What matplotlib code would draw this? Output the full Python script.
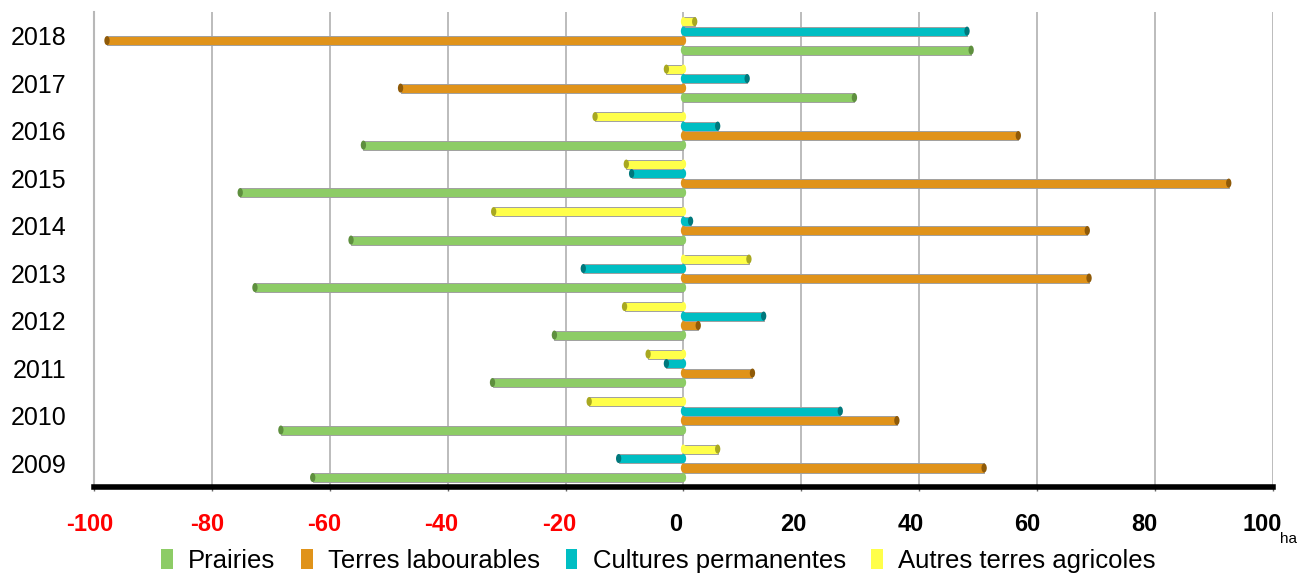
import matplotlib.pyplot as plt
import matplotlib.transforms as mtransforms
from matplotlib.patches import Ellipse, Patch

# Données (ha)
annees = ['2009', '2010', '2011', '2012', '2013', '2014', '2015', '2016', '2017', '2018']
prairies = [-62.9, -68.3, -32.4, -21.9, -72.7, -56.4, -75.2, -54.3, 29.0, 48.8]
terres_labourables = [51.0, 36.2, 11.7, 2.5, 68.8, 68.5, 92.5, 56.8, -48.0, -97.8]
cultures_permanentes = [-11.0, 26.6, -2.9, 13.6, -17.0, 1.2, -8.8, 5.8, 10.8, 48.1]
autres_terres = [5.8, -16.0, -6.0, -10.0, 11.1, -32.2, -9.7, -15.0, -2.9, 1.9]

series = ['Prairies', 'Terres labourables', 'Cultures permanentes', 'Autres terres agricoles']
valeurs = [prairies, terres_labourables, cultures_permanentes, autres_terres]
cores = ['#8dcc66', '#e0931a', '#00bec3', '#ffff4a']
cores_fonce = ['#5e8f3e', '#8f5a08', '#00787c', '#a8a820']
ticks_x = [-100, -80, -60, -40, -20, 0, 20, 40, 60, 80, 100]

plt.rcParams['font.family'] = ['Liberation Sans', 'DejaVu Sans']

fig = plt.figure(figsize=(13.04, 5.76), dpi=100)
ax = fig.add_axes([0.0721, 0.1545, 0.9041, 0.8245])

h = 0.19
offsets = [-0.3, -0.1, 0.1, 0.3]
for vals, off, c, cf in zip(valeurs, offsets, cores, cores_fonce):
    for i, v in enumerate(vals):
        y = i + off
        ax.barh(y, v, height=h, color=c, edgecolor='#a0a0a0', linewidth=0.7, zorder=3)
        # extrémités du cylindre
        ax.add_patch(Ellipse((0, y), 0.9, h, facecolor=c, edgecolor='none', zorder=4))
        ax.add_patch(Ellipse((v, y), 0.9, h, facecolor=cf, edgecolor='none', zorder=5))

ax.set_xlim(-100, 100)
ax.set_ylim(-0.5, len(annees) - 0.5)
ax.set_yticks(range(len(annees)))
ax.set_yticklabels(annees, fontsize=18)
ax.tick_params(axis='y', length=0, pad=20)

ax.set_xticks(ticks_x)
ax.set_xticklabels([str(t) for t in ticks_x], fontsize=17, fontweight='bold')
ax.tick_params(axis='x', length=3, width=1, color='#666666', pad=16, direction='out')
# étiquettes de l'avant du plancher 3D, légèrement décalées vers la gauche
for lab, t in zip(ax.get_xticklabels(), ticks_x):
    lab.set_color('red' if t < 0 else 'black')
    dx = -(4 + 7 * (t + 100) / 200) / 100
    lab.set_transform(lab.get_transform() + mtransforms.ScaledTranslation(dx, 0, fig.dpi_scale_trans))

ax.grid(axis='x', color='#b0b0b0', linewidth=1.2, zorder=0)
for s in ['top', 'right']:
    ax.spines[s].set_visible(False)
ax.spines['left'].set_color('#b8b8b8')
ax.spines['left'].set_linewidth(1.5)
ax.spines['bottom'].set_color('black')
ax.spines['bottom'].set_linewidth(4)

ax.text(1.006, -0.11, 'ha', transform=ax.transAxes, fontsize=11, ha='left', va='center')

handles = [Patch(facecolor=c, edgecolor='none') for c in cores]
fig.legend(handles, series, loc='center', bbox_to_anchor=(0.505, 0.026), ncol=4,
           frameon=False, fontsize=18.5, handlelength=0.45, handleheight=0.8,
           handletextpad=0.6, columnspacing=1.0)

fig.savefig('out.png', dpi=100)
